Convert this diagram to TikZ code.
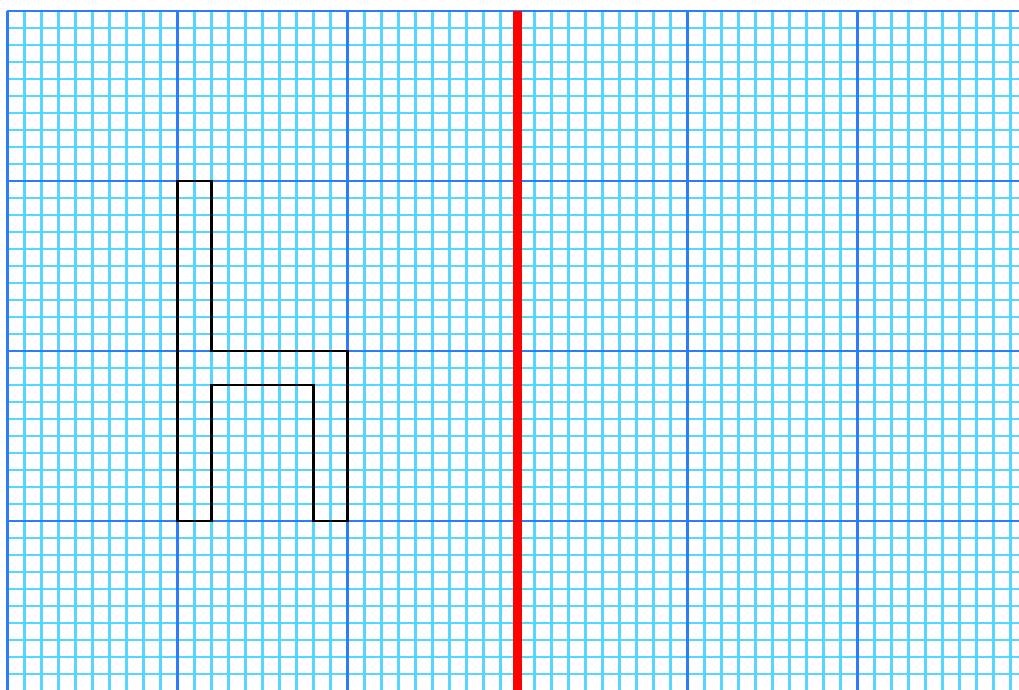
\documentclass[tikz,border=0pt]{standalone}
\usetikzlibrary{arrows}
\definecolor{minorCyan}{RGB}{85,215,255}
\definecolor{majorBlue}{RGB}{45,125,250}

\begin{document}
\begin{tikzpicture}[x = 0.25cm, y = 0.25cm]
	\tikzstyle{minorLine} = [draw = minorCyan, line width = 1.1pt]
	\tikzstyle{majorLine} = [draw = majorBlue, line width = 0.9pt]
	\tikzstyle{mirrorLine} = [draw = red, line width = 3.4pt]
	\tikzstyle{shapeLine} = [draw = black, line width = 0.9pt, line join = miter]
	\useasboundingbox (-0.44,0.12) rectangle (59.5,40.65);
	\fill[white] (-0.44,0.12) rectangle (59.5,40.65);
	% fine grid
	\foreach \x in {0,...,60} \draw[minorLine] (\x,-0.5) -- (\x,40);
	\foreach \y in {0,...,40} \draw[minorLine] (0,\y) -- (60,\y);
	% coarse grid
	\foreach \x in {0,10,20,40,50} \draw[majorLine] (\x,-0.5) -- (\x,40);
	\foreach \y in {0,10,20,30,40} \draw[majorLine] (0,\y) -- (60,\y);
	% mirror line
	\coordinate (mTop) at (30,40);
	\coordinate (mBot) at (30,-0.5);
	\draw[mirrorLine] (mTop) -- (mBot);
	% figure
	\coordinate (f0) at (10,30);
	\coordinate (f1) at (12,30);
	\coordinate (f2) at (12,20);
	\coordinate (f3) at (20,20);
	\coordinate (f4) at (20,10);
	\coordinate (f5) at (18,10);
	\coordinate (f6) at (18,18);
	\coordinate (f7) at (12,18);
	\coordinate (f8) at (12,10);
	\coordinate (f9) at (10,10);
	\draw[shapeLine] (f0) -- (f1) -- (f2) -- (f3) -- (f4) -- (f5) -- (f6) -- (f7) -- (f8) -- (f9) -- cycle;
\end{tikzpicture}
\end{document}
